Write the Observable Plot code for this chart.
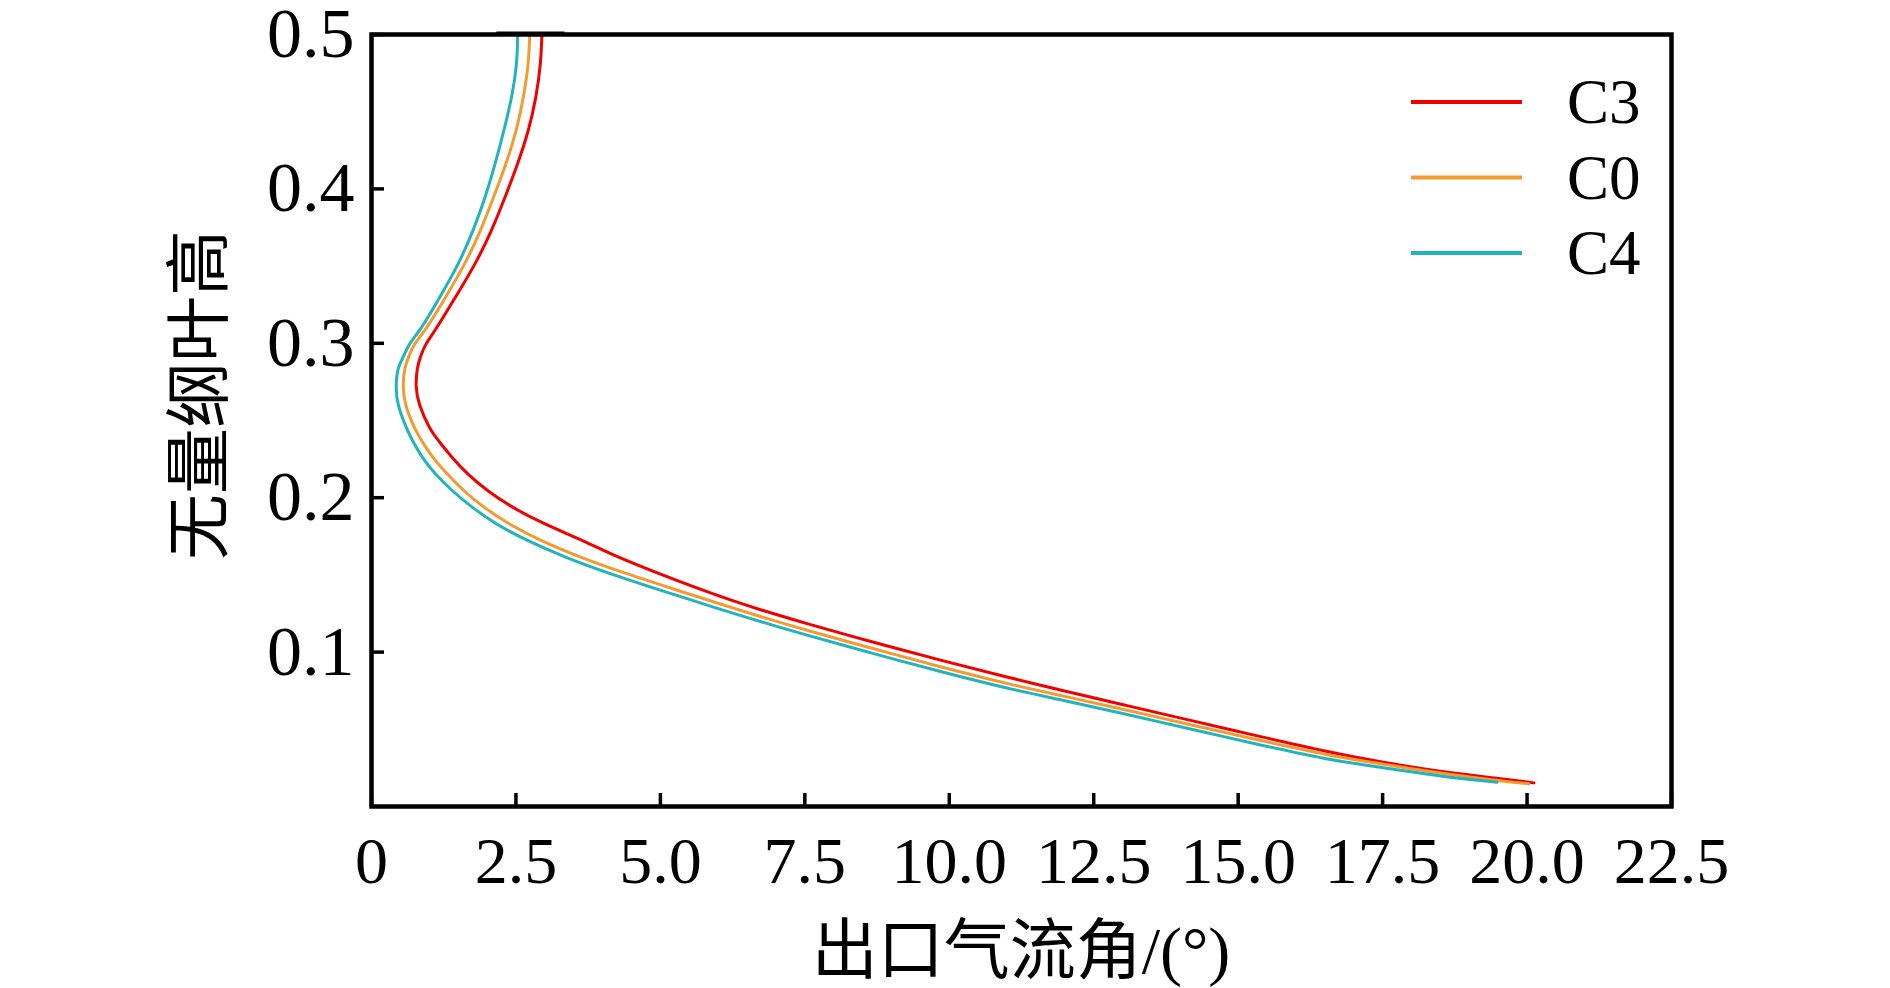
<!DOCTYPE html>
<html><head><meta charset="utf-8">
<script src="https://cdn.jsdelivr.net/npm/d3@7"></script>
<script src="https://cdn.jsdelivr.net/npm/@observablehq/plot@0.6"></script>
<style>
html,body{margin:0;padding:0;background:#fff;}
#chart{position:relative;width:1890px;height:988px;overflow:hidden;}
</style></head><body><div id="chart"></div>
<script>
const seriesNames = ["C3", "C0", "C4"];
const seriesColors = ["#f20000", "#f39b30", "#21b4bc"];

const c3Y = [0.5, 0.4807, 0.459, 0.4375, 0.416, 0.3944, 0.3728, 0.3513, 0.3297, 0.308, 0.2995, 0.2908, 0.2843, 0.2725, 0.2606, 0.2434, 0.2369, 0.2261, 0.2153, 0.2045, 0.1937, 0.183, 0.1722, 0.1614, 0.146, 0.1312, 0.1183, 0.1063, 0.0947, 0.0838, 0.0755, 0.0653, 0.0553, 0.0452, 0.0354, 0.0288, 0.0222, 0.0183, 0.0153];
const c3X = [2.95, 2.93, 2.85, 2.72, 2.53, 2.31, 2.08, 1.80, 1.45, 1.10, 0.93, 0.84, 0.79, 0.76, 0.81, 1.02, 1.16, 1.39, 1.66, 2.00, 2.43, 2.98, 3.67, 4.25, 5.30, 6.38, 7.54, 8.69, 9.85, 11.0, 11.92, 13.08, 14.23, 15.39, 16.54, 17.46, 18.56, 19.48, 20.12];

const c0Y = [0.5, 0.4807, 0.459, 0.4375, 0.416, 0.3944, 0.3728, 0.3513, 0.3297, 0.308, 0.2995, 0.2908, 0.2843, 0.2725, 0.2606, 0.2434, 0.2369, 0.2261, 0.2153, 0.2045, 0.1937, 0.183, 0.1722, 0.1614, 0.1506, 0.14, 0.1269, 0.114, 0.1021, 0.0904, 0.0795, 0.072, 0.0623, 0.0525, 0.0427, 0.0332, 0.0276, 0.0212, 0.0168, 0.0147];
const c0X = [2.74, 2.72, 2.63, 2.51, 2.33, 2.11, 1.89, 1.62, 1.28, 0.93, 0.73, 0.64, 0.57, 0.54, 0.57, 0.76, 0.87, 1.05, 1.31, 1.59, 1.94, 2.37, 2.92, 3.61, 4.42, 5.30, 6.38, 7.54, 8.69, 9.85, 11.0, 11.92, 13.08, 14.23, 15.39, 16.54, 17.46, 18.56, 19.48, 20.03];

const c4Y = [0.5, 0.4807, 0.459, 0.4375, 0.416, 0.3944, 0.3728, 0.3513, 0.3297, 0.308, 0.2995, 0.2908, 0.2843, 0.2725, 0.2606, 0.2434, 0.2369, 0.2261, 0.2153, 0.2045, 0.1937, 0.183, 0.1722, 0.1614, 0.1506, 0.1365, 0.1236, 0.1108, 0.099, 0.0873, 0.0765, 0.0692, 0.0596, 0.0497, 0.0398, 0.0304, 0.0254, 0.0192, 0.0157];
const c4X = [2.53, 2.52, 2.43, 2.29, 2.14, 1.97, 1.76, 1.51, 1.18, 0.84, 0.64, 0.55, 0.45, 0.42, 0.44, 0.62, 0.71, 0.87, 1.10, 1.39, 1.74, 2.14, 2.69, 3.35, 4.13, 5.30, 6.38, 7.54, 8.69, 9.85, 11.0, 11.92, 13.08, 14.23, 15.39, 16.54, 17.46, 18.56, 19.48];

const xTicks = [0, 2.5, 5.0, 7.5, 10.0, 12.5, 15.0, 17.5, 20.0, 22.5];
const yTicks = [0.1, 0.2, 0.3, 0.4, 0.5];
const xDomain = [0, 22.5];
const yDomain = [0, 0.5];
const xTitle = "出口气流角/(°)";
const yTitle = "无量纲叶高";
const topSegX = [2.17, 3.35];
const topSegY = [0.5];

const seriesX = [c3X, c0X, c4X];
const seriesY = [c3Y, c0Y, c4Y];
const rows = [];
seriesNames.forEach((name, i) => {
  seriesX[i].forEach((x, j) => rows.push({series: name, x, y: seriesY[i][j]}));
});

const latin = "'Liberation Serif', 'Times New Roman', serif";
const cjk = "'Liberation Serif', 'Noto Sans CJK SC', sans-serif";

const chart = Plot.plot({
  width: 1890, height: 988,
  marginLeft: 371, marginRight: 219, marginTop: 34, marginBottom: 182,
  style: {fontFamily: latin, fontSize: "66px", color: "#000", background: "#fff"},
  x: {domain: xDomain, ticks: xTicks, label: null},
  y: {domain: yDomain, ticks: yTicks, label: null},
  color: {domain: seriesNames, range: seriesColors},
  marks: [
    Plot.line(rows, {x: "x", y: "y", z: "series", stroke: "series", strokeWidth: 3, curve: "basis"}),
    Plot.ruleY(topSegY, {x1: topSegX[0], x2: topSegX[1], stroke: "#000", strokeWidth: 3, dy: -1.5}),
    Plot.axisX({ticks: xTicks, tickSize: -13, tickPadding: 43, strokeWidth: 3.5, fontSize: 66,
      tickFormat: d => d === 0 ? "0" : d3.format(".1f")(d), label: null}),
    Plot.axisY({ticks: yTicks, tickSize: -13, tickPadding: 30, strokeWidth: 3.5, fontSize: 70,
      tickFormat: d3.format(".1f"), label: null}),
    Plot.frame({stroke: "#000", strokeWidth: 4.5})
  ]
});
document.getElementById("chart").appendChild(chart);

const svg = d3.select(chart);
svg.append("text")
  .attr("x", 1021).attr("y", 973)
  .attr("text-anchor", "middle")
  .style("font-family", cjk).style("font-size", "66px").attr("fill", "#000")
  .text(xTitle);
svg.append("text")
  .attr("transform", "translate(193,395) rotate(-90)")
  .attr("text-anchor", "middle").attr("dominant-baseline", "central")
  .style("font-family", "'Noto Sans CJK SC', sans-serif").style("font-size", "66px").attr("fill", "#000")
  .text(yTitle);

const legend = svg.append("g");
seriesNames.forEach((name, i) => {
  const yy = 102 + i * 75.5;
  legend.append("line").attr("x1", 1411).attr("x2", 1522).attr("y1", yy).attr("y2", yy)
    .attr("stroke", seriesColors[i]).attr("stroke-width", 4);
  legend.append("text").attr("x", 1567).attr("y", yy)
    .attr("text-anchor", "start").attr("dominant-baseline", "central")
    .style("font-family", latin).style("font-size", "63px").attr("fill", "#000").text(name);
});
</script>
</body></html>
